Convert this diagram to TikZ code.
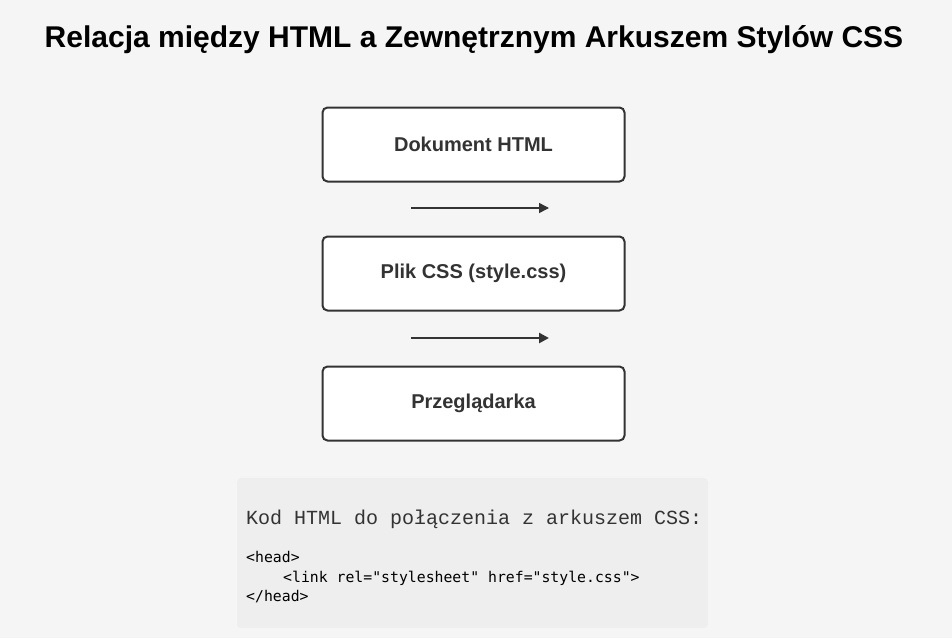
\documentclass[tikz,border=0pt]{standalone}
\usepackage{fontspec}
\setmainfont{Liberation Sans}
\newfontfamily\courierfont{Liberation Mono}
\newfontfamily\consolefont{DejaVu Sans Mono}
\usetikzlibrary{arrows.meta}
\usetikzlibrary{positioning}
\definecolor{pagebg}{HTML}{F5F5F5}
\definecolor{boxline}{HTML}{333333}
\definecolor{codebg}{HTML}{EEEEEE}
\newcommand{\qt}{\char34}

\begin{document}
\begin{tikzpicture}[x=1pt,y=-1pt]
	\fill [pagebg] (0,0) rectangle (952,638);
	\useasboundingbox (0,0) rectangle (952,638);
	\node [font=\fontsize{30}{34}\selectfont\bfseries] (title) at (474,40)
		{Relacja między HTML a Zewnętrznym Arkuszem Stylów CSS};
	\begin{scope}[every node/.style = {draw=boxline, line width=2pt, fill=white,
			rounded corners=5pt, minimum width=302pt, minimum height=74pt,
			text=boxline, font=\fontsize{20}{24}\selectfont\bfseries}]
		\node (html) at (473.5,144.5) {Dokument HTML};
		\node (css) at (473.5,273.5) {Plik CSS (style.css)};
		\node (browser) at (473.5,403.5) {Przeglądarka};
	\end{scope}
	\coordinate (a1s) at (411,208);
	\coordinate (a1e) at (549,208);
	\coordinate (a2s) at (411,338);
	\coordinate (a2e) at (549,338);
	\begin{scope}[>={Triangle[length=10pt,width=10pt]}]
		\draw [->, line width=1.5pt, boxline] (a1s) -- (a1e);
		\draw [->, line width=2.5pt, boxline] (a2s) -- (a2e);
	\end{scope}
	\fill [codebg, rounded corners=4pt] (237,478) rectangle (708,628);
	\node [anchor=base west, inner sep=0pt, text=boxline,
		font=\courierfont\fontsize{20}{24}\selectfont] (codetitle) at (246,524)
		{Kod HTML do połączenia z arkuszem CSS:};
	\begin{scope}[every node/.style = {anchor=base west, inner sep=0pt, text=black,
			font=\consolefont\fontsize{14.8}{19.5}\selectfont}]
		\node (headopen) at (246,562) {\textless head\textgreater};
		\node (linkline) at (283,582) {\textless link rel=\qt stylesheet\qt{} href=\qt style.css\qt\textgreater};
		\node (headclose) at (246,601) {\textless/head\textgreater};
	\end{scope}
\end{tikzpicture}
\end{document}
